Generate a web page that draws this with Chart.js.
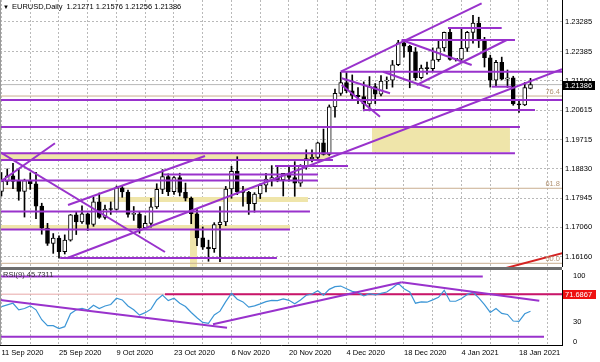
<!DOCTYPE html>
<html><head><meta charset="utf-8">
<script src="https://cdn.jsdelivr.net/npm/chart.js@4.4.1/dist/chart.umd.min.js"></script>
<style>
html,body{margin:0;padding:0;background:#fff;}
#wrap{position:relative;width:600px;height:362px;overflow:hidden;background:#fff;}
#c1{position:absolute;left:0;top:0;}
#sep{position:absolute;left:0;top:267px;width:562px;height:3px;background:#6e6e6e;}
#c2{position:absolute;left:0;top:270px;}
</style></head><body>
<div id="wrap"><canvas id="c1" width="600" height="267"></canvas><div id="sep"></div><canvas id="c2" width="600" height="92"></canvas></div>
<script>
// ---------- DATA ----------
const dates = ["11 Sep 2020","14 Sep 2020","15 Sep 2020","16 Sep 2020","17 Sep 2020","18 Sep 2020","21 Sep 2020","22 Sep 2020","23 Sep 2020","24 Sep 2020",
"25 Sep 2020","28 Sep 2020","29 Sep 2020","30 Sep 2020","1 Oct 2020","2 Oct 2020","5 Oct 2020","6 Oct 2020","7 Oct 2020","8 Oct 2020",
"9 Oct 2020","12 Oct 2020","13 Oct 2020","14 Oct 2020","15 Oct 2020","16 Oct 2020","19 Oct 2020","20 Oct 2020","21 Oct 2020","22 Oct 2020",
"23 Oct 2020","26 Oct 2020","27 Oct 2020","28 Oct 2020","29 Oct 2020","30 Oct 2020","2 Nov 2020","3 Nov 2020","4 Nov 2020","5 Nov 2020",
"6 Nov 2020","9 Nov 2020","10 Nov 2020","11 Nov 2020","12 Nov 2020","13 Nov 2020","16 Nov 2020","17 Nov 2020","18 Nov 2020","19 Nov 2020",
"20 Nov 2020","23 Nov 2020","24 Nov 2020","25 Nov 2020","26 Nov 2020","27 Nov 2020","30 Nov 2020","1 Dec 2020","2 Dec 2020","3 Dec 2020",
"4 Dec 2020","7 Dec 2020","8 Dec 2020","9 Dec 2020","10 Dec 2020","11 Dec 2020","14 Dec 2020","15 Dec 2020","16 Dec 2020","17 Dec 2020",
"18 Dec 2020","21 Dec 2020","22 Dec 2020","23 Dec 2020","24 Dec 2020","28 Dec 2020","29 Dec 2020","30 Dec 2020","31 Dec 2020","1 Jan 2021",
"4 Jan 2021","5 Jan 2021","6 Jan 2021","7 Jan 2021","8 Jan 2021","11 Jan 2021","12 Jan 2021","13 Jan 2021","14 Jan 2021","15 Jan 2021",
"18 Jan 2021","19 Jan 2021","20 Jan 2021"];

const open = [1.1815,1.1845,1.1862,1.1845,1.1815,1.1848,1.1838,1.1770,1.1703,1.1657,
1.1673,1.1632,1.1667,1.1744,1.1722,1.1747,1.1715,1.1783,1.1736,1.1761,
1.1760,1.1826,1.1813,1.1745,1.1746,1.1705,1.1718,1.1768,1.1821,1.1860,
1.1814,1.1857,1.1812,1.1794,1.1747,1.1674,1.1646,1.1641,1.1714,1.1722,
1.1822,1.1876,1.1814,1.1812,1.1778,1.1807,1.1834,1.1852,1.1857,1.1850,
1.1870,1.1857,1.1840,1.1891,1.1914,1.1918,1.1962,1.1927,1.2071,1.2112,
1.2145,1.2120,1.2106,1.2102,1.2080,1.2133,1.2110,1.2149,1.2152,1.2199,
1.2265,1.2255,1.2238,1.2160,1.2189,1.2187,1.2214,1.2250,1.2297,1.2215,
1.2216,1.2249,1.2297,1.2325,1.2271,1.2220,1.2152,1.2206,1.2155,1.2159,
1.2080,1.2077,1.21271];
const high = [1.1872,1.1883,1.1900,1.1883,1.1852,1.1871,1.1873,1.1779,1.1718,1.1687,
1.1680,1.1683,1.1745,1.1754,1.1771,1.1749,1.1797,1.1810,1.1773,1.1783,
1.1831,1.1830,1.1819,1.1769,1.1754,1.1741,1.1794,1.1838,1.1881,1.1868,
1.1860,1.1870,1.1840,1.1798,1.1760,1.1707,1.1667,1.1720,1.1769,1.1830,
1.1891,1.1920,1.1830,1.1815,1.1811,1.1838,1.1870,1.1893,1.1891,1.1866,
1.1889,1.1905,1.1896,1.1941,1.1941,1.1964,1.2004,1.2077,1.2125,1.2176,
1.2178,1.2168,1.2130,1.2147,1.2163,1.2142,1.2166,1.2162,1.2212,1.2273,
1.2272,1.2258,1.2251,1.2198,1.2207,1.2250,1.2276,1.2298,1.2310,1.2218,
1.2310,1.2300,1.2349,1.2343,1.2282,1.2228,1.2212,1.2222,1.2183,1.2164,
1.2089,1.2145,1.21576];
const low = [1.1801,1.1835,1.1823,1.1788,1.1737,1.1821,1.1732,1.1685,1.1651,1.1627,
1.1612,1.1625,1.1664,1.1684,1.1718,1.1696,1.1709,1.1733,1.1731,1.1745,
1.1758,1.1797,1.1737,1.1727,1.1688,1.1702,1.1706,1.1763,1.1808,1.1802,
1.1806,1.1801,1.1786,1.1717,1.1650,1.1639,1.1603,1.1630,1.1602,1.1711,
1.1794,1.1805,1.1770,1.1745,1.1752,1.1793,1.1813,1.1831,1.1844,1.1801,
1.1846,1.1800,1.1830,1.1882,1.1904,1.1912,1.1925,1.1924,1.2040,1.2106,
1.2114,1.2090,1.2081,1.2059,1.2059,1.2081,1.2104,1.2126,1.2131,1.2196,
1.2222,1.2129,1.2152,1.2156,1.2170,1.2180,1.2209,1.2240,1.2213,1.2210,
1.2212,1.2239,1.2264,1.2251,1.2192,1.2131,1.2133,1.2153,1.2130,1.2076,
1.2054,1.2075,1.21256];
const close = [1.1845,1.1862,1.1845,1.1815,1.1848,1.1838,1.1770,1.1703,1.1657,1.1673,
1.1632,1.1667,1.1744,1.1722,1.1747,1.1715,1.1783,1.1736,1.1761,1.1760,
1.1826,1.1813,1.1745,1.1746,1.1705,1.1718,1.1768,1.1821,1.1860,1.1814,
1.1857,1.1812,1.1794,1.1747,1.1674,1.1646,1.1641,1.1714,1.1722,1.1822,
1.1876,1.1814,1.1812,1.1778,1.1807,1.1834,1.1852,1.1857,1.1850,1.1870,
1.1857,1.1840,1.1891,1.1914,1.1918,1.1962,1.1927,1.2071,1.2112,1.2145,
1.2120,1.2106,1.2102,1.2080,1.2133,1.2110,1.2149,1.2152,1.2199,1.2265,
1.2255,1.2238,1.2160,1.2189,1.2187,1.2214,1.2250,1.2297,1.2215,1.2216,
1.2249,1.2297,1.2325,1.2271,1.2220,1.2152,1.2206,1.2155,1.2159,1.2080,
1.2077,1.2130,1.21386];

const rsi = [52.8,55.4,57.9,48,50,54,48,33,24,24,
19.5,22.5,42,48,50.3,47.7,55,50,53.8,56,
65.5,63,53.8,48,40,43.7,49,62.9,70.5,61.9,
65.5,58,53,44,36,29,27.5,40.2,46,60.4,
73,64,60,52,54,57,60.4,62.4,61.9,64.5,
62.4,57,63,70,72,77,70,79,83,84,
80,76,74,69,72.5,70.5,73,75,81,88,
80,75,58,60,59.5,63,67,77.5,61,61,
65,71,74.5,66,56,44,50,42.5,41,31,
30.5,42,45.7311];

const priceTicks = [1.23285,1.22385,1.21500,1.20615,1.19715,1.18830,1.17945,1.17060,1.16160];
const rsiTicks = [0,30,100];
const xTickVals = [0,5,10,15,20,25,30,35,40,45,50,55,60,65,70,75,80,85,90,95];

// drawn objects (bar index, price)
const hLines = [ // [price, fromIdx, toIdx]
 [1.20920,-1,99],[1.20101,-1,90.17],[1.21778,59.0,99],[1.22739,69.6,89.3],
 [1.23103,77.65,86.99],[1.20617,62.87,92.78],[1.21323,85.25,88.73],
 [1.19304,-1,89.3],[1.19101,-1,57.65],[1.18919,47.57,60.26],[1.18661,28.1,55.04],
 [1.18479,-1,55.04],[1.17539,-1,53.65],[1.16993,-1,50.17],[1.16129,10.2,47.9]
];
const trendLines = [ // [idx1, p1, idx2, p2]
 [59.0,1.21778,83.5,1.23852],[69.6,1.22739,81.77,1.21981],[72.2,1.21375,87.86,1.22739],
 [66.35,1.21778,74.52,1.21275],[59.17,1.21578,67.57,1.21123],[59.17,1.21375,65.83,1.20413],
 [11.34,1.16120,97.48,1.21854],[11.57,1.17736,35.39,1.19222],
 [-0.26,1.19343,28.43,1.16311],[-0.26,1.18434,9.30,1.19607]
];
const zones = [ // [idx1, idx2, top, bottom]
 [-1,57.13,1.19283,1.19101],[64.43,88.43,1.20101,1.19343],[17.13,53.3,1.17979,1.17827],
 [-1,50.17,1.17130,1.16993],[32.78,34.05,1.17494,1.15]
];
const fibLevels = [[1.21040,"76.4"],[1.18243,"61.8"],[1.15968,"50.0"]];
const redLine = [87,1.15791,99,1.16344];

const rsiHLines = [[98.3,-1,83.7],[7.3,-1,94.35]];
const rsiTrend = [[-0.26,62.9,39.22,20.9],[36.78,26.1,69.6,89.7],[69.6,89.7,93.53,61.8]];
const rsiLevel = 71.6867;
const rsiLevelFrom = 28.43;

// ---------- STYLE ----------
const FONT = '"Liberation Sans", Arial, sans-serif';
const PURPLE = '#9932cc';
const xMin = -0.26, xMax = 97.48;
Chart.defaults.font.family = FONT;
Chart.defaults.font.size = 7.5;
Chart.defaults.color = '#000';

function seg(x1,y1,x2,y2,color,w,order){
  return {type:'line',data:[{x:x1,y:y1},{x:x2,y:y2}],borderColor:color,borderWidth:w,
    pointRadius:0,fill:false,order:order,clip:0,tension:0};
}
function noPad(s){ s.paddingTop=0; s.paddingBottom=0; s.paddingLeft=0; s.paddingRight=0; }
const idx = dates.map((d,i)=>i);
const last = close.length-1;

const mainDatasets = [];
zones.forEach(z=>mainDatasets.push({type:'line',data:[{x:z[0],y:z[2]},{x:z[1],y:z[2]}],
  borderColor:'rgba(0,0,0,0)',borderWidth:0,pointRadius:0,backgroundColor:'#efe5aa',
  fill:{value:z[3]},order:9,clip:0}));
fibLevels.forEach(f=>mainDatasets.push(seg(-1,f[0],99,f[0],'#c9ae90',1,8)));
mainDatasets.push(seg(-1,close[last],99,close[last],'#b8b8b8',1,8));
mainDatasets.push({type:'bar',data:idx.map(i=>({x:i,y:[low[i],high[i]]})),backgroundColor:'#000',
  barThickness:1,grouped:false,order:4,borderWidth:0,minBarLength:1});
mainDatasets.push({type:'bar',data:idx.map(i=>({x:i,y:[open[i],close[i]]})),
  backgroundColor:idx.map(i=>close[i]>=open[i]?'#fff':'#000'),borderColor:'#000',borderWidth:1,
  borderSkipped:false,barThickness:4,grouped:false,order:3,minBarLength:1});
hLines.forEach(h=>mainDatasets.push(seg(h[1],h[0],h[2],h[0],PURPLE,2,1)));
trendLines.forEach(t=>mainDatasets.push(seg(t[0],t[1],t[2],t[3],PURPLE,2,1)));
mainDatasets.push(seg(redLine[0],redLine[1],redLine[2],redLine[3],'#d42222',2,1));

const gridCol = '#b9b9b9';
const mainDeco = {
  id:'mainDeco',
  afterDraw(chart){
    const {ctx,chartArea:a,scales:{y}} = chart;
    ctx.save();
    ctx.strokeStyle='#000';ctx.lineWidth=1;
    ctx.beginPath();ctx.moveTo(a.right+0.5,0);ctx.lineTo(a.right+0.5,chart.height);ctx.stroke();
    ctx.strokeStyle='#9a9a9a';
    ctx.beginPath();ctx.moveTo(0.5,0);ctx.lineTo(0.5,chart.height);ctx.stroke();
    ctx.font='7.5px '+FONT;ctx.textAlign='right';ctx.textBaseline='bottom';ctx.fillStyle='#b39474';
    fibLevels.forEach(f=>ctx.fillText(f[1],a.right-2,y.getPixelForValue(f[0])-0.5));
    const by=y.getPixelForValue(close[last]);
    ctx.fillStyle='#000';ctx.fillRect(a.right+1,Math.round(by)-4,32,9);
    ctx.fillStyle='#fff';ctx.textAlign='left';ctx.textBaseline='middle';
    ctx.fillText(close[last].toFixed(5),a.right+3,Math.round(by)+0.5);
    ctx.fillStyle='#000';ctx.font='6px '+FONT;ctx.fillText('\u25BC',3,7);
    ctx.font='7.5px '+FONT;
    ctx.fillText('EURUSD,Daily  '+open[last].toFixed(5)+' '+high[last].toFixed(5)+' '+low[last].toFixed(5)+' '+close[last].toFixed(5),12,7);
    ctx.restore();
  }
};

new Chart(document.getElementById('c1'),{
  type:'line',
  data:{datasets:mainDatasets},
  options:{responsive:false,animation:false,events:[],
    layout:{padding:0},
    plugins:{legend:{display:false},tooltip:{enabled:false},title:{display:false}},
    scales:{
      x:{type:'linear',min:xMin,max:xMax,offset:false,position:'bottom',
        afterBuildTicks:s=>{s.ticks=xTickVals.map(v=>({value:v}));},
        ticks:{display:false},grid:{color:gridCol,drawTicks:false,offset:false},
        border:{display:false,dash:[2,2]},afterFit:s=>{s.height=0;noPad(s);}},
      y:{type:'linear',position:'right',min:1.15856,max:1.23952,
        afterBuildTicks:s=>{s.ticks=priceTicks.map(v=>({value:v}));},
        ticks:{callback:v=>Number(v).toFixed(5),color:'#000',padding:3,font:{size:7.5}},
        grid:{color:gridCol,drawTicks:false},border:{display:false,dash:[2,2]},
        afterFit:s=>{s.width=38;noPad(s);}}
    }
  },
  plugins:[mainDeco]
});

// ---------- RSI ----------
const rsiDatasets = [];
rsiDatasets.push(seg(-1,rsiLevel,99,rsiLevel,'#e8a8a8',1,6));
rsiDatasets.push(seg(rsiLevelFrom,rsiLevel,99,rsiLevel,'#c8156a',2,5));
rsiDatasets.push({type:'line',data:idx.map(i=>({x:i,y:rsi[i]})),borderColor:'#3c96d6',borderWidth:1.2,
  pointRadius:0,fill:false,order:3,clip:0,tension:0});
rsiHLines.forEach(h=>rsiDatasets.push(seg(h[1],h[0],h[2],h[0],PURPLE,2,1)));
rsiTrend.forEach(t=>rsiDatasets.push(seg(t[0],t[1],t[2],t[3],PURPLE,2,1)));

const rsiDeco = {
  id:'rsiDeco',
  afterDraw(chart){
    const {ctx,chartArea:a,scales:{y}} = chart;
    ctx.save();
    ctx.strokeStyle='#000';ctx.lineWidth=1;
    ctx.beginPath();ctx.moveTo(a.right+0.5,0);ctx.lineTo(a.right+0.5,a.bottom+1);ctx.stroke();
    ctx.beginPath();ctx.moveTo(0,a.bottom+0.5);ctx.lineTo(a.right+1,a.bottom+0.5);ctx.stroke();
    ctx.strokeStyle='#9a9a9a';
    ctx.beginPath();ctx.moveTo(0.5,0);ctx.lineTo(0.5,a.bottom);ctx.stroke();
    ctx.font='7.5px '+FONT;ctx.textBaseline='middle';ctx.textAlign='left';
    ctx.fillStyle='#333';
    ctx.fillText('RSI(9) '+rsi[last].toFixed(4),3,4.5);
    const ly=y.getPixelForValue(rsiLevel);
    ctx.fillStyle='#ee1111';ctx.fillRect(a.right+1,Math.round(ly)-4,33,9);
    ctx.fillStyle='#fff';ctx.fillText(rsiLevel.toFixed(4),a.right+3,Math.round(ly)+0.5);
    ctx.restore();
  }
};

new Chart(document.getElementById('c2'),{
  type:'line',
  data:{datasets:rsiDatasets},
  options:{responsive:false,animation:false,events:[],
    layout:{padding:0},
    plugins:{legend:{display:false},tooltip:{enabled:false}},
    scales:{
      x:{type:'linear',min:xMin,max:xMax,offset:false,position:'bottom',
        afterBuildTicks:s=>{s.ticks=xTickVals.map(v=>({value:v}));},
        ticks:{align:'start',autoSkip:false,maxRotation:0,padding:3,color:'#000',font:{size:7.5},
          callback:v=>(v%10===0 && dates[v])?dates[v]:''},
        grid:{color:gridCol,drawTicks:false,offset:false},border:{display:false,dash:[2,2]},
        afterFit:s=>{s.height=17;noPad(s);}},
      y:{type:'linear',position:'right',min:-5.3,max:108.3,
        afterBuildTicks:s=>{s.ticks=rsiTicks.map(v=>({value:v}));},
        ticks:{color:'#000',padding:3,font:{size:7.5},callback:v=>String(v)},
        grid:{display:false},border:{display:false},
        afterFit:s=>{s.width=38;noPad(s);}}
    }
  },
  plugins:[rsiDeco]
});
</script>
</body></html>
